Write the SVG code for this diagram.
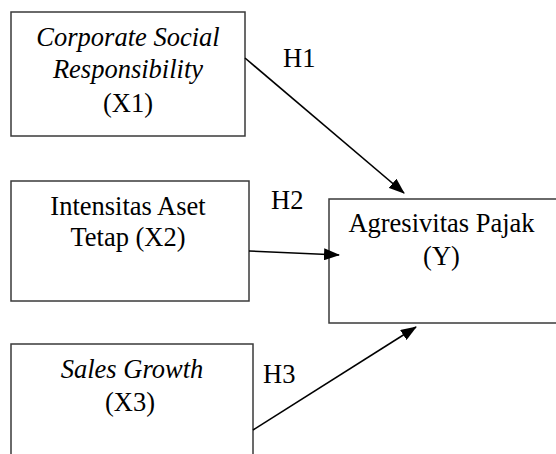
<svg xmlns="http://www.w3.org/2000/svg" width="556" height="454" viewBox="0 0 556 454">
<style>
.box{fill:#fff;stroke:#3a3a3a;stroke-width:1.5}
text{font-family:'Liberation Serif','Times New Roman','DejaVu Serif',serif;font-size:26.5px;fill:#000}
.t{text-anchor:middle}
.i{font-style:italic}
.c{stroke:#000;stroke-width:1.6;fill:none;marker-end:url(#ah)}
</style>
<defs>
<marker id="ah" markerWidth="16" markerHeight="12" refX="15" refY="6" orient="auto" markerUnits="userSpaceOnUse">
<path d="M0,0 L16,6 L0,12 Z" fill="#000"/>
</marker>
</defs>
<rect width="556" height="454" fill="#fff"/>
<g id="x1">
<rect class="box" x="11" y="12" width="234" height="124"/>
<text class="t i" x="128" y="46">Corporate Social</text>
<text class="t i" x="128" y="78">Responsibility</text>
<text class="t" x="128" y="112">(X1)</text>
</g>
<g id="x2">
<rect class="box" x="11" y="181" width="238" height="120"/>
<text class="t" x="128" y="215">Intensitas Aset</text>
<text class="t" x="128" y="246">Tetap (X2)</text>
</g>
<g id="x3">
<rect class="box" x="11" y="344" width="242" height="130"/>
<text class="t i" x="132" y="378">Sales Growth</text>
<text class="t" x="130" y="411">(X3)</text>
</g>
<g id="y">
<rect class="box" x="329" y="199" width="240" height="124"/>
<text class="t" x="441.5" y="232">Agresivitas Pajak</text>
<text class="t" x="441.5" y="265">(Y)</text>
</g>
<g id="connectors">
<line class="c" x1="245" y1="58" x2="404" y2="193"/>
<line class="c" x1="249" y1="251" x2="339" y2="255"/>
<line class="c" x1="253" y1="430" x2="416" y2="327"/>
<text x="283" y="67">H1</text>
<text x="271" y="209">H2</text>
<text x="263" y="383">H3</text>
</g>
</svg>
